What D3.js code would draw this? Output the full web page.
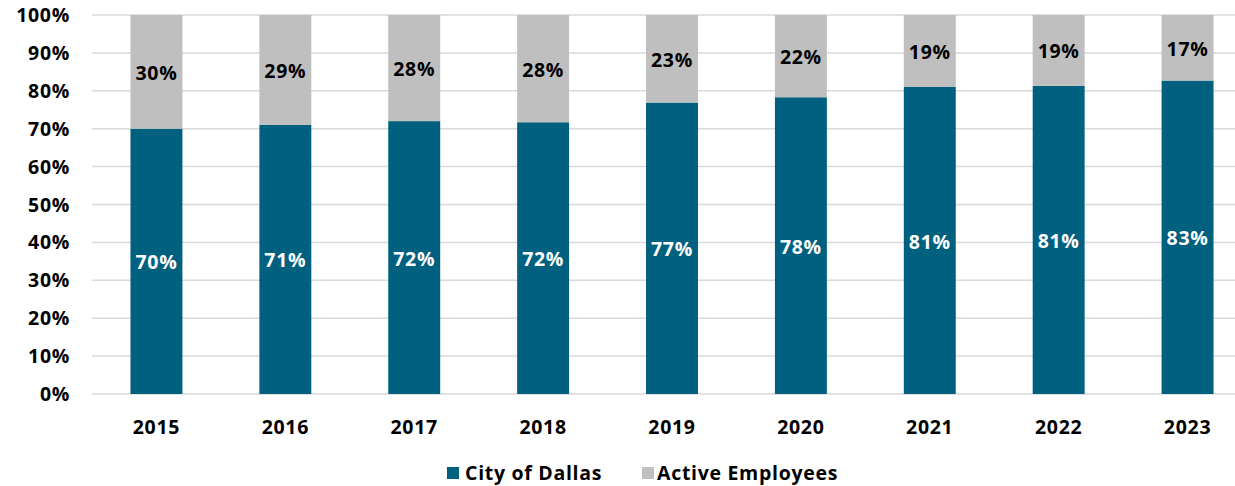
<!DOCTYPE html>
<html>
<head>
<meta charset="utf-8">
<script src="https://cdn.jsdelivr.net/npm/d3@7"></script>
<style>
  body { margin: 0; background: #fff; }
  svg text { font-family: "Open Sans", sans-serif; font-weight: 700; letter-spacing: 0.7px; }
</style>
</head>
<body>
<div id="chart"></div>
<script>
var years = ["2015", "2016", "2017", "2018", "2019", "2020", "2021", "2022", "2023"]
var cityOfDallas = [70.0, 71.0, 72.0, 71.7, 76.9, 78.3, 81.0, 81.3, 82.7]
var activeEmployees = cityOfDallas.map(function(v) { return 100 - v })
var yTicks = [0, 10, 20, 30, 40, 50, 60, 70, 80, 90, 100]
var seriesNames = ["City of Dallas", "Active Employees"]
var colors = ["#00607f", "#bfbfbf"]

var width = 1235, height = 486
var fontSize = 19.5

var svg = d3.select("#chart").append("svg")
  .attr("width", width)
  .attr("height", height)

var x = d3.scaleBand()
  .domain(years)
  .range([92, 1252])
  .paddingInner(0.597)
  .paddingOuter(0.2985)

var y = d3.scaleLinear()
  .domain([0, 100])
  .range([394, 15])

// grid
svg.append("g").selectAll("line")
  .data(yTicks)
  .enter().append("line")
  .attr("x1", 92)
  .attr("x2", width)
  .attr("y1", function(d) { return y(d) })
  .attr("y2", function(d) { return y(d) })
  .attr("stroke", "#d9d9d9")
  .attr("stroke-width", 1.5)

// y axis labels
svg.append("g").selectAll("text")
  .data(yTicks)
  .enter().append("text")
  .attr("x", 70)
  .attr("y", function(d) { return y(d) })
  .attr("dy", "0.36em")
  .attr("text-anchor", "end")
  .attr("font-size", fontSize)
  .attr("fill", "#000")
  .text(function(d) { return d + "%" })

var rows = years.map(function(yr, i) {
  return { year: yr, city: cityOfDallas[i], active: activeEmployees[i] }
})
var stack = d3.stack().keys(["city", "active"])(rows)

var layers = svg.append("g").selectAll("g")
  .data(stack)
  .enter().append("g")
  .attr("fill", function(d, i) { return colors[i] })

layers.selectAll("rect")
  .data(function(d) { return d })
  .enter().append("rect")
  .attr("x", function(d) { return x(d.data.year) })
  .attr("width", x.bandwidth())
  .attr("y", function(d) { return y(d[1]) })
  .attr("height", function(d) { return y(d[0]) - y(d[1]) })

// value labels
stack.forEach(function(layer, i) {
  svg.append("g").selectAll("text")
    .data(layer)
    .enter().append("text")
    .attr("x", function(d) { return x(d.data.year) + x.bandwidth() / 2 })
    .attr("y", function(d) { return (y(d[0]) + y(d[1])) / 2 + 1 })
    .attr("dy", "0.36em")
    .attr("text-anchor", "middle")
    .attr("font-size", fontSize)
    .attr("fill", i === 0 ? "#fff" : "#000")
    .text(function(d) { return Math.round(d[1] - d[0]) + "%" })
})

// x axis labels
svg.append("g").selectAll("text")
  .data(years)
  .enter().append("text")
  .attr("x", function(d) { return x(d) + x.bandwidth() / 2 })
  .attr("y", 427)
  .attr("dy", "0.36em")
  .attr("text-anchor", "middle")
  .attr("font-size", fontSize)
  .attr("fill", "#000")
  .text(function(d) { return d })

// legend
var legendX = [447, 642]
var legend = svg.append("g").selectAll("g")
  .data(seriesNames)
  .enter().append("g")
  .attr("transform", function(d, i) { return "translate(" + legendX[i] + ",467)" })

legend.append("rect")
  .attr("width", 12)
  .attr("height", 12)
  .attr("fill", function(d, i) { return colors[i] })

legend.append("text")
  .attr("x", function(d, i) { return i === 0 ? 18 : 15 })
  .attr("y", 6)
  .attr("dy", "0.36em")
  .attr("font-size", fontSize)
  .attr("fill", "#000")
  .text(function(d) { return d })
</script>
</body>
</html>
